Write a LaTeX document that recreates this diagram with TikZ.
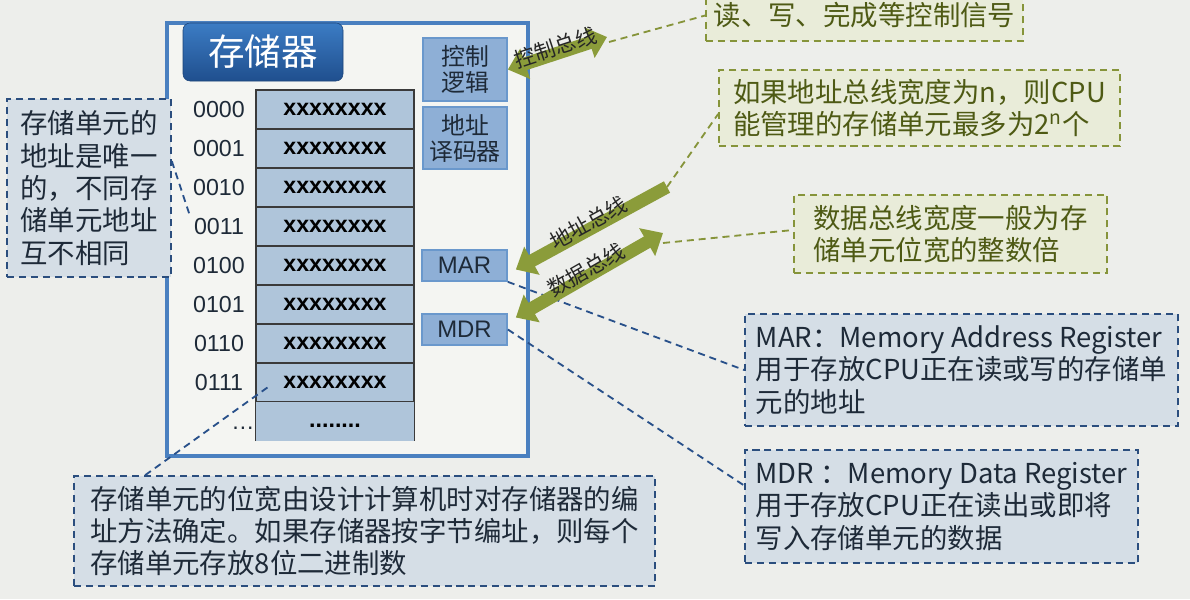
\documentclass[tikz,border=0pt]{standalone}
\usepackage{fontspec}
\setmainfont{Noto Sans CJK SC}
\newfontfamily\latin{Liberation Sans}
\usetikzlibrary{arrows.meta,positioning}
\tikzset{>={Triangle[length=13pt,width=22pt]}}

\definecolor{bgcolor}{HTML}{EDEEEB}
\definecolor{framefill}{HTML}{F4F5F2}
\definecolor{frameline}{HTML}{4A80C0}
\definecolor{cellfill}{HTML}{AFC5DA}
\definecolor{cellline}{HTML}{3A3A3A}
\definecolor{unitfill}{HTML}{8EAFD6}
\definecolor{unitline}{HTML}{6A98CC}
\definecolor{noteblue}{HTML}{2B4E7E}
\definecolor{notefill}{HTML}{D5DEE6}
\definecolor{notetext}{HTML}{1E2A38}
\definecolor{oliveline}{HTML}{86943A}
\definecolor{olivefill}{HTML}{E9ECD9}
\definecolor{olivetext}{HTML}{4E5A14}
\definecolor{busgreen}{HTML}{8B9C3A}
\definecolor{linkblue}{HTML}{28508A}
\definecolor{titletop}{HTML}{3C7CC4}
\definecolor{titlebottom}{HTML}{1F4F8E}
\definecolor{titleline}{HTML}{1B4378}

\tikzset{
  wh/.style 2 args={minimum width=#1*0.025cm, minimum height=#2*0.025cm},
  frame/.style={draw=frameline, fill=framefill, line width=2.8pt, inner sep=0pt},
  title/.style={rounded corners=5pt, top color=titletop, bottom color=titlebottom,
    draw=titleline, text=white, font=\fontsize{26}{26}\selectfont, inner sep=0pt},
  cell/.style={draw=cellline, fill=cellfill, line width=0.8pt, inner sep=0pt,
    text height=8.6pt, text depth=0pt, font=\latin\bfseries\fontsize{16.5}{18}\selectfont, wh={158}{39}},
  addr/.style={font=\latin\fontsize{16.5}{18}\selectfont, text=notetext},
  unit/.style={draw=unitline, fill=unitfill, line width=1.2pt, inner sep=0pt, align=center,
    text=notetext, font=\fontsize{17}{18.5}\selectfont},
  reg/.style={unit, font=\latin\fontsize{17}{18}\selectfont},
  bluenote/.style={draw=noteblue, fill=notefill, dash pattern=on 5pt off 3.5pt, line width=1.2pt,
    align=left, inner sep=0pt, text=notetext, font=\fontsize{19.5}{23}\selectfont},
  olivenote/.style={bluenote, draw=oliveline, fill=olivefill, text=olivetext},
  bus/.style={draw=busgreen, line width=9.2pt},
  buslabel/.style={midway, sloped, above=-8pt, inner sep=1pt, text=black!85,
    font=\fontsize{15}{15}\selectfont},
  bluelink/.style={draw=linkblue, dash pattern=on 5pt off 3.5pt, line width=1.3pt},
  olivelink/.style={draw=oliveline, dash pattern=on 5pt off 3.5pt, line width=1.3pt},
}

\begin{document}
\begin{tikzpicture}[x=0.025cm, y=-0.025cm]
  \useasboundingbox (0,0) rectangle (1190,599);
  \fill[bgcolor] (0,0) rectangle (1190,599);

  % memory frame and title
  \node[frame, wh={361}{433}] (mem) at (347.5,239.5) {};
  \node[title, wh={160}{58}] (ttl) at (263,52) {存储器};

  % storage cells
  \foreach \a [count=\i from 0] in {0000,0001,0010,0011,0100,0101,0110,0111}{
    \node[cell] (c\i) at (335,{109.5+39*\i}) {xxxxxxxx};
    \node[addr] (a\i) at (219,{109.5+39*\i}) {\a};
  }
  \node[cell, draw=none] (c8) at (335,421) {........};
  \draw[cellline, line width=0.8pt] (c8.south west) -- (c8.north west)
    (c8.north east) -- (c8.south east);
  \node[addr] (a8) at (243,428) {…};

  % control units and registers
  \node[unit, wh={84}{63}] (ctrl) at (465,69.5) {控制\\逻辑};
  \node[unit, wh={84}{62}] (dec) at (465,138) {地址\\译码器};
  \node[reg, wh={85}{31}] (mar) at (464.5,265.5) {MAR};
  \node[reg, wh={85}{31}] (mdr) at (464.5,329.5) {MDR};

  % notes
  \node[bluenote, wh={164}{178}] (lcall) at (89,188)
    {存储单元的\\地址是唯一\\的，不同存\\储单元地址\\互不相同};
  \node[bluenote, wh={581}{110}] (bcall) at (364.5,531)
    {存储单元的位宽由设计计算机时对存储器的编\\址方法确定。如果存储器按字节编址，则每个\\存储单元存放8位二进制数};
  \node[bluenote, wh={433}{112}] (mcall) at (961.5,370)
    {MAR：Memory Address Register\\用于存放CPU正在读或写的存储单\\元的地址};
  \node[bluenote, wh={393}{113}] (dcall) at (941.5,506.5)
    {MDR ：Memory Data Register\\用于存放CPU正在读出或即将\\写入存储单元的数据};
  \node[olivenote, wh={317}{51}] (tcall) at (864.5,15.5) {读、写、完成等控制信号};
  \node[olivenote, wh={401}{76}] (ncall) at (919.5,108)
    {如果地址总线宽度为n，则CPU\\能管理的存储单元最多为2\textsuperscript{n}个};
  \node[olivenote, wh={313}{78}] (wcall) at (950.5,234)
    {数据总线宽度一般为存\\储单元位宽的整数倍};

  \coordinate (cbus) at (607,37);
  \coordinate (atail) at (667,187);
  \coordinate (dtail) at (663,233);

  % dashed links
  \draw[bluelink] ([shift={(0,63)}]lcall.north east) -- (a3.north west);
  \draw[bluelink] ([shift={(72,0)}]bcall.north west) -- ([shift={(12,5)}]c7.west);
  \draw[bluelink] (mar.south east) -- (mcall.west);
  \draw[bluelink] (mdr.east) -- ([shift={(0,-21)}]dcall.west);
  \draw[olivelink] ([shift={(2,5)}]cbus) -- (tcall.west);
  \draw[olivelink] (atail) -- ([shift={(0,6)}]ncall.west);
  \draw[olivelink] ([shift={(0,10)}]dtail) -- ([shift={(0,-4)}]wcall.west);

  % buses
  \draw[bus, <->] (ctrl.east) -- node[buslabel] {控制总线} (cbus);
  \draw[bus, ->] (atail) -- node[buslabel] {地址总线} ([shift={(8,4)}]mar.east);
  \draw[bus, <->] ([shift={(8,-12)}]mdr.east) -- node[buslabel] {数据总线} (dtail);
\end{tikzpicture}
\end{document}
